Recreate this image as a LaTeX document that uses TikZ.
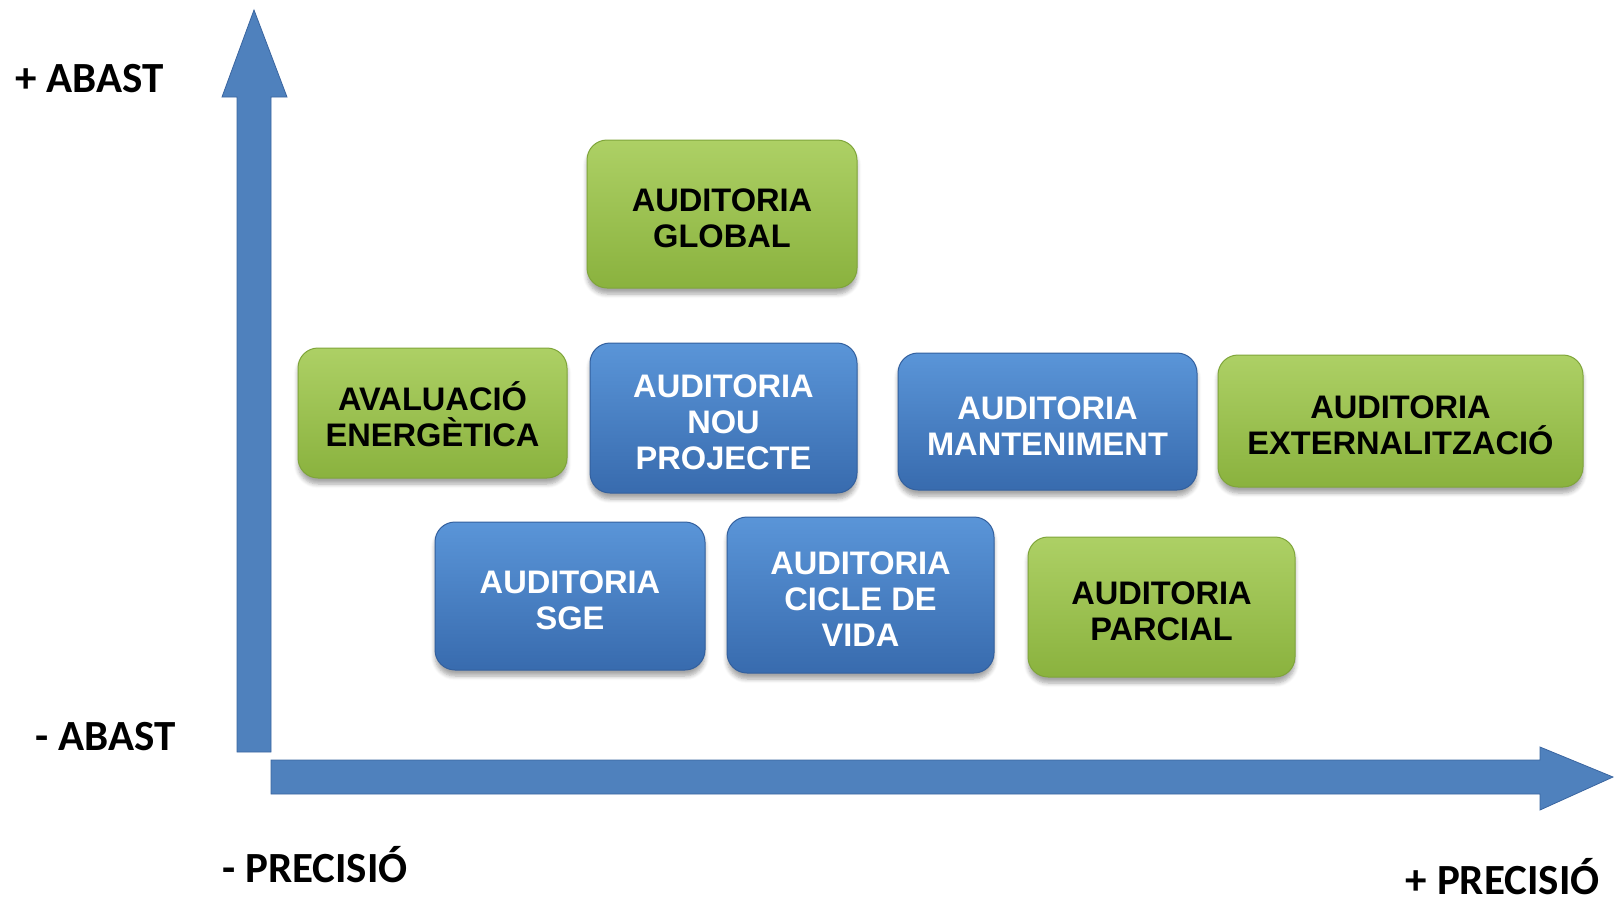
\documentclass[tikz,border=0pt]{standalone}
\usepackage{fontspec}
\setmainfont{Liberation Sans}
\newfontfamily\axisfont{Carlito}
\usetikzlibrary{shadows.blur}
\definecolor{arrowblue}{HTML}{4F81BD}
\definecolor{arrowedge}{HTML}{3A65A0}
\definecolor{gtop}{HTML}{ADD065}
\definecolor{gbot}{HTML}{8AB23E}
\definecolor{gedge}{HTML}{7FA53A}
\definecolor{btop}{HTML}{5A95D8}
\definecolor{bbot}{HTML}{386BAE}
\definecolor{bedge}{HTML}{33609E}
\newcommand{\toppad}{\rule{0pt}{15.7pt}}
\tikzset{
  boxbase/.style={rectangle, rounded corners=10pt, line width=0.5pt, align=center,
    font=\fontsize{16.3pt}{18pt}\selectfont\bfseries, inner sep=0pt,
    blur shadow={shadow blur steps=6, shadow xshift=0pt, shadow yshift=-3pt, shadow opacity=35}},
  gbox/.style={boxbase, draw=gedge, top color=gtop, bottom color=gbot, text=black},
  bbox/.style={boxbase, draw=bedge, top color=btop, bottom color=bbot, text=white},
  axislabel/.style={font=\axisfont\fontsize{21.5pt}{25pt}\selectfont\bfseries, anchor=base west, inner sep=0pt, text=black},
  axisarrow/.style={fill=arrowblue, draw=arrowedge, line width=0.4pt}
}
\begin{document}
\begin{tikzpicture}[x=0.5pt, y=-0.5pt]
\useasboundingbox (0,0) rectangle (1614,907);
% vertical axis arrow
\draw[axisarrow] (237,752) -- (237,97) -- (222,97) -- (254,10) -- (287,97) -- (271,97) -- (271,752) -- cycle;
% horizontal axis arrow
\draw[axisarrow] (271,760) -- (1540,760) -- (1540,747) -- (1613,777) -- (1540,810) -- (1540,794) -- (271,794) -- cycle;
% axis labels
\node[axislabel] (pabast) at (15,92) {+ ABAST};
\node[axislabel] (mabast) at (35,750) {- ABAST};
\node[axislabel] (mprec) at (222,882) {- PRECISIÓ};
\node[axislabel, anchor=base east] (pprec) at (1600,894) {+ PRECISIÓ};
% boxes
\node[gbox, minimum width=135pt, minimum height=74pt] (global) at (722,214) {\toppad AUDITORIA\\GLOBAL};
\node[gbox, minimum width=134.5pt, minimum height=65pt] (aval) at (432.5,413) {\toppad AVALUACIÓ\\ENERGÈTICA};
\node[bbox, minimum width=133.5pt, minimum height=75pt] (nou) at (723.5,418) {\toppad AUDITORIA\\NOU\\PROJECTE};
\node[bbox, minimum width=149.5pt, minimum height=68.5pt] (mant) at (1047.5,421.5) {\toppad AUDITORIA\\MANTENIMENT};
\node[gbox, minimum width=182.5pt, minimum height=66pt] (ext) at (1400.5,421) {\toppad AUDITORIA\\EXTERNALITZACIÓ};
\node[bbox, minimum width=135pt, minimum height=74pt] (sge) at (570,596) {\toppad AUDITORIA\\SGE};
\node[bbox, minimum width=133.5pt, minimum height=78pt] (cicle) at (860.5,595) {\toppad AUDITORIA\\CICLE DE\\VIDA};
\node[gbox, minimum width=133.5pt, minimum height=70pt] (parc) at (1161.5,607) {\toppad AUDITORIA\\PARCIAL};
\end{tikzpicture}
\end{document}
